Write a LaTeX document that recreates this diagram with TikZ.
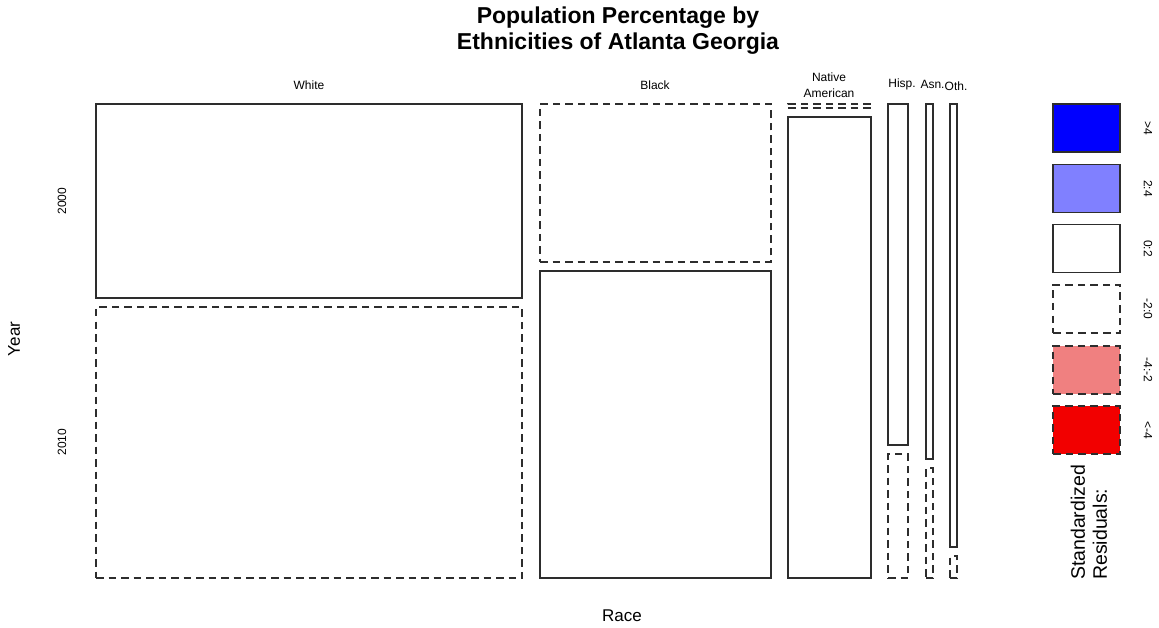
\documentclass[tikz,border=0pt]{standalone}
\usepackage{fontspec}
\setmainfont{Liberation Sans}
\definecolor{posHi}{RGB}{0,0,255}
\definecolor{posMid}{RGB}{128,128,255}
\definecolor{negMid}{RGB}{240,128,128}
\definecolor{negHi}{RGB}{242,0,0}
\definecolor{edge}{RGB}{45,45,45}
\tikzset{
  tile/.style={draw=edge, line width=1.05pt, inner sep=0pt, outer sep=0pt, rectangle},
  solidtile/.style={tile},
  dashtile/.style={tile, dash pattern=on 7.5pt off 5pt},
  lab/.style={font=\fontsize{12}{14}\selectfont, inner sep=0pt, align=center},
  leglab/.style={font=\fontsize{12}{14}\selectfont, inner sep=0pt, rotate=-90},
  axlab/.style={font=\fontsize{17}{20}\selectfont, inner sep=0pt},
}
\begin{document}
\begin{tikzpicture}[x=1pt,y=-1pt]
\useasboundingbox[fill=white] (0,0) rectangle (1159,628);
% title
\node[font=\bfseries\fontsize{23}{26}\selectfont, align=center, inner sep=0pt] (title) at (618,31) {Population Percentage by\\Ethnicities of Atlanta Georgia};
% column labels
\node[lab] (lwhite) at (309,85) {White};
\node[lab] (lblack) at (655,85) {Black};
\node[lab, font=\fontsize{12}{15.5}\selectfont] (lnative) at (829,85) {Native\\American};
\node[lab] (lhisp) at (902,84) {Hisp.};
\node[lab] (lasn) at (932.5,84) {Asn.};
\node[lab] (loth) at (956,86) {Oth.};
% row labels
\node[lab, rotate=90] (l2000) at (62,201) {2000};
\node[lab, rotate=90] (l2010) at (62,442) {2010};
% axis labels
\node[axlab] (race) at (622,616) {Race};
\node[axlab, rotate=90] (year) at (14,339) {Year};
% tiles
\node[solidtile, minimum width=426pt, minimum height=194pt] (w2000) at (309,201) {};
\node[dashtile,  minimum width=426pt, minimum height=271pt] (w2010) at (309,442.5) {};
\node[dashtile,  minimum width=231pt, minimum height=158pt] (b2000) at (655.5,183) {};
\node[solidtile, minimum width=231pt, minimum height=307pt] (b2010) at (655.5,424.5) {};
\node[dashtile,  minimum width=83pt, minimum height=4pt] (n2000) at (829.5,106) {};
\node[solidtile, minimum width=83pt, minimum height=461pt] (n2010) at (829.5,347.5) {};
\node[solidtile, minimum width=20pt, minimum height=341pt] (h2000) at (898,274.5) {};
\node[dashtile,  minimum width=20pt, minimum height=124pt] (h2010) at (898,516) {};
\node[solidtile, minimum width=7pt, minimum height=355pt] (a2000) at (929.5,281.5) {};
\node[dashtile,  minimum width=7pt, minimum height=110pt] (a2010) at (929.5,523) {};
\node[solidtile, minimum width=7pt, minimum height=443pt] (o2000) at (953.5,325.5) {};
\node[dashtile,  minimum width=7pt, minimum height=22pt] (o2010) at (953.5,567) {};
% legend
\tikzset{legbox/.style={minimum width=67pt, minimum height=48pt}}
\node[solidtile, legbox, fill=posHi] (k1) at (1086.5,128) {};
\node[solidtile, legbox, fill=posMid] (k2) at (1086.5,188.5) {};
\node[solidtile, legbox, fill=white] (k3) at (1086.5,248.5) {};
\node[dashtile, legbox, fill=white] (k4) at (1086.5,309) {};
\node[dashtile, legbox, fill=negMid] (k5) at (1086.5,370) {};
\node[dashtile, legbox, fill=negHi] (k6) at (1086.5,430) {};
\node[leglab] (t1) at (1148,128) {>4};
\node[leglab] (t2) at (1148,188.5) {2:4};
\node[leglab] (t3) at (1148,248.5) {0:2};
\node[leglab] (t4) at (1148,309) {-2:0};
\node[leglab] (t5) at (1148,370) {-4:-2};
\node[leglab] (t6) at (1148,430) {<-4};
\node[rotate=90, anchor=west, align=left, inner sep=0pt, font=\fontsize{19.5}{22}\selectfont] (stdres) at (1089,580) {Standardized\\Residuals:};
\end{tikzpicture}
\end{document}
